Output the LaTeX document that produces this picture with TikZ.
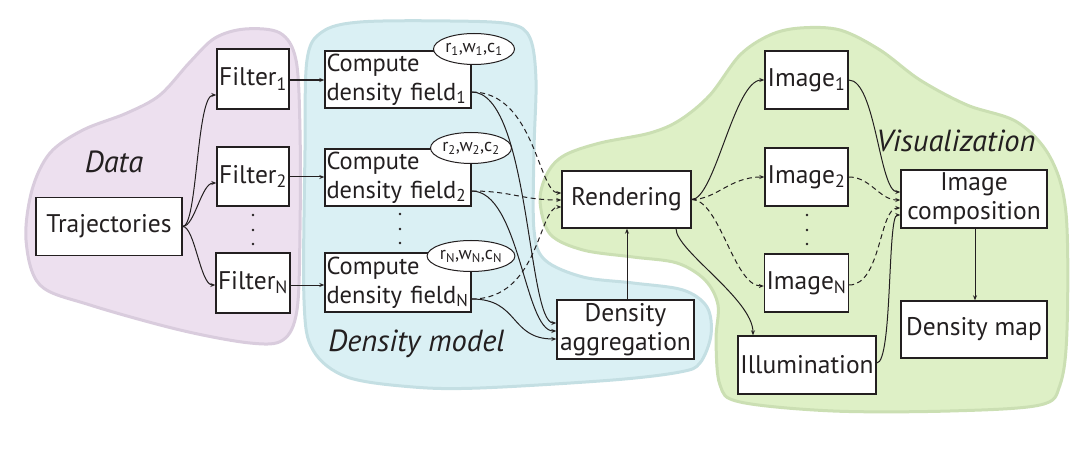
\documentclass[tikz,border=0pt]{standalone}
\usepackage{fontspec}
\setmainfont{PT Sans}
\usetikzlibrary{arrows.meta,calc,shapes.geometric}
\definecolor{ink}{HTML}{231F20}
\definecolor{pfill}{HTML}{EDE0EF}
\definecolor{pline}{HTML}{D9CCDD}
\definecolor{bfill}{HTML}{DAF0F4}
\definecolor{bline}{HTML}{C4DFE3}
\definecolor{gfill}{HTML}{DEF0C6}
\definecolor{gline}{HTML}{CBDFB3}
\begin{document}
\begin{tikzpicture}[x=1pt,y=-1pt,
  box/.style={draw=ink,line width=1.4pt,fill=white,text=ink,inner sep=2pt,
    font=\fontsize{25.5}{29}\selectfont,minimum height=58pt},
  leftbox/.style={box,align=left,text width=143pt,inner xsep=1.5pt,
    font=\fontsize{24.5}{29}\selectfont},
  ctrbox/.style={box,align=center},
  param/.style={ellipse,draw=ink,line width=1pt,fill=white,text=ink,inner sep=0pt,
    minimum width=70pt,minimum height=31pt,font=\fontsize{18}{19}\selectfont},
  group/.style={text=ink,font=\fontsize{30.5}{32}\selectfont\itshape,anchor=base},
  conn/.style={draw=ink,line width=1pt,-{Stealth[length=5pt,width=4pt]}},
  dconn/.style={conn,dash pattern=on 5pt off 3.5pt},
  blob/.style={line width=3pt,line join=round},
  dot/.style={fill=ink,circle,inner sep=0pt,minimum size=2.6pt}
]
\useasboundingbox (0,0) rectangle (1079,473);

% background regions
\filldraw[blob,fill=pfill,draw=pline] plot[smooth cycle,tension=0.55] coordinates {
 (26,240) (32,190) (50,153) (83,130) (127,113) (160,95) (190,62) (215,38) (245,29)
 (280,33) (296,60) (300,130) (300,230) (297,310) (283,340) (250,343) (180,330) (90,305) (40,285)};
\filldraw[blob,fill=bfill,draw=bline] plot[smooth cycle,tension=0.55] coordinates {
 (305,150) (307,60) (322,32) (360,22) (450,21) (510,24) (530,38) (536,80) (534,150)
 (534,230) (545,260) (583,277) (633,283) (683,290) (707,307) (711,335) (700,363)
 (680,372) (613,380) (480,388) (413,387) (347,377) (313,350) (304,300)};
\filldraw[blob,fill=gfill,draw=gline] plot[smooth cycle,tension=0.55] coordinates {
 (540,200) (548,172) (565,155) (600,143) (650,133) (680,120) (710,95) (740,55) (770,35)
 (800,28) (840,30) (880,50) (920,80) (967,105) (1017,122) (1050,157) (1066,213) (1067,330)
 (1060,385) (1040,405) (950,411) (833,411) (740,402) (720,385) (716,340) (718,305)
 (705,280) (677,263) (633,257) (583,250) (550,234)};

% group labels
\node[group] (ldata) at (114,173) {Data};
\node[group] (lmodel) at (416.5,351) {Density model};
\node[group] (lvis) at (956,152) {Visualization};

% boxes
\node[ctrbox,minimum width=146pt] (traj) at (109,226.5) {Trajectories};
\node[ctrbox,minimum width=72pt,minimum height=60pt] (f1) at (253,79) {Filter\textsubscript{1}};
\node[ctrbox,minimum width=72pt,minimum height=59pt] (f2) at (253,176.5) {Filter\textsubscript{2}};
\node[ctrbox,minimum width=72pt,minimum height=60pt] (fN) at (253,283) {Filter\textsubscript{N}};

\node[leftbox,minimum height=57pt] (c1) at (398,79.5) {Compute\\\mbox{density field\textsubscript{1}}};
\node[leftbox,minimum height=57pt] (c2) at (398,177.5) {Compute\\\mbox{density field\textsubscript{2}}};
\node[leftbox,minimum height=59pt] (cN) at (398,282.5) {Compute\\\mbox{density field\textsubscript{N}}};

\node[param] (p1) at (474,49) {r\textsubscript{1},w\textsubscript{1},c\textsubscript{1}};
\node[param] (p2) at (471,148) {r\textsubscript{2},w\textsubscript{2},c\textsubscript{2}};
\node[param] (pN) at (471,256) {r\textsubscript{N},w\textsubscript{N},c\textsubscript{N}};

\node[ctrbox,minimum width=129pt,minimum height=57pt] (rend) at (626.5,199.5) {Rendering};
\node[ctrbox,minimum width=137pt,minimum height=59pt] (agg) at (625.5,329.5) {Density\\aggregation};

\node[ctrbox,minimum width=83pt] (i1) at (806.5,80) {Image\textsubscript{1}};
\node[ctrbox,minimum width=83pt] (i2) at (806.5,177) {Image\textsubscript{2}};
\node[ctrbox,minimum width=83pt] (iN) at (806.5,283) {Image\textsubscript{N}};
\node[ctrbox,minimum width=138pt] (illum) at (807,365) {Illumination};
\node[ctrbox,minimum width=146pt] (comp) at (974,199) {Image\\composition};
\node[ctrbox,minimum width=146pt,minimum height=57pt] (dmap) at (974,329.5) {Density map};

% vertical dots
\foreach \y [count=\k] in {215,230,244} {
  \node[dot] (fd\k) at (253,\y) {};
  \node[dot] (cd\k) at (400,\y-1) {};
  \node[dot] (id\k) at (807,\y) {};
}

% data -> filters
\draw[conn] (traj.east) .. controls +(15,0) and +(-20,0) .. ([yshift=-16pt]f1.west);
\draw[conn] (traj.east) .. controls +(12,0) and +(-15,0) .. ([yshift=-6.5pt]f2.west);
\draw[conn] (traj.east) .. controls +(12,0) and +(-15,0) .. ([yshift=-2pt]fN.west);

% filters -> compute
\draw[conn,line width=1.6pt] ([yshift=-1pt]f1.east) -- ([yshift=-0.5pt]c1.west);
\draw[conn] ([yshift=-0.5pt]f2.east) -- ([yshift=0.5pt]c2.west);
\draw[conn] ([yshift=-2pt]fN.east) -- ([yshift=-2.5pt]cN.west);

% compute -> rendering (dashed) and aggregation (solid)
\draw[dconn] ([yshift=-12.5pt]c1.east) .. controls +(63,0) and +(-23,0) .. ([yshift=6.5pt]rend.west);
\draw[dconn] ([yshift=-13.5pt]c2.east) .. controls +(40,0) and +(-40,0) .. ([yshift=-0.5pt]rend.west);
\draw[dconn] ([yshift=-16.5pt]cN.east) .. controls +(68,0) and +(-23,0) .. ([yshift=-7.5pt]rend.west);
\draw[conn] ([yshift=-12.5pt]c1.east) .. controls +(58,0) and +(-29,0) .. ([yshift=6.5pt]agg.west);
\draw[conn] ([yshift=-13.5pt]c2.east) .. controls +(48,0) and +(-32,0) .. ([yshift=-1.5pt]agg.west);
\draw[conn] ([yshift=-16.5pt]cN.east) .. controls +(48,0) and +(-47,0) .. ([yshift=-9.5pt]agg.west);

% aggregation -> rendering
\draw[conn] ([xshift=1.5pt]agg.north) -- ([xshift=0.5pt]rend.south);

% rendering -> images and illumination
\draw[conn] (rend.east) .. controls +(23,0) and +(-30,0) .. (i1.west);
\draw[dconn] (rend.east) .. controls +(25,0) and +(-35,0) .. (i2.west);
\draw[dconn] (rend.east) .. controls +(28,0) and +(-30,0) .. ([yshift=-3pt]iN.west);
\draw[conn] ([xshift=49.5pt]rend.south) .. controls +(0,22) and +(0,-36) .. ([xshift=-54pt]illum.north);

% images -> composition
\draw[conn] (i1.east) .. controls +(27,0) and +(-21,0) .. ([yshift=7pt]comp.west);
\draw[dconn] (i2.east) .. controls +(22,0) and +(-21,0) .. ([yshift=-1pt]comp.west);
\draw[dconn] ([yshift=-2pt]iN.east) .. controls +(32,0) and +(-21,0) .. ([yshift=-9pt]comp.west);
\draw[conn] ([yshift=2pt]illum.east) .. controls +(16,0) and +(-13,0) .. ([yshift=-16pt]comp.west);

% composition -> density map
\draw[conn] ([xshift=1pt]comp.south) -- ([xshift=1pt]dmap.north);
\end{tikzpicture}
\end{document}
